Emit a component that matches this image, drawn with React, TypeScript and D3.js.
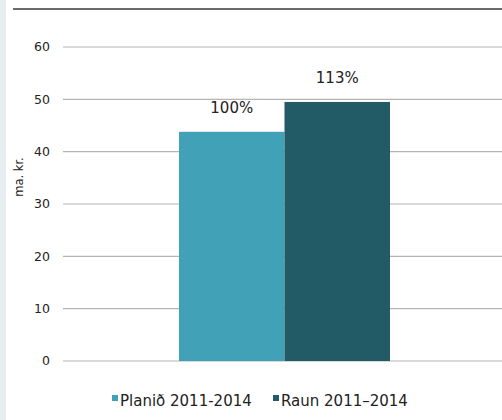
import React, { useEffect, useRef } from 'react';
import * as d3 from 'd3';

const categories = ['Planið 2011-2014', 'Raun 2011–2014'];
const values = [43.8, 49.5];
const barLabels = ['100%', '113%'];
const yTicks = [0, 10, 20, 30, 40, 50, 60];
const colors = ['#41a1b6', '#225a66'];

const App = () => {
  const svgRef = useRef<SVGSVGElement>(null);

  useEffect(() => {
    const width = 502;
    const height = 420;
    const margin = { top: 47, right: 0, bottom: 59, left: 63 };
    const font = '"DejaVu Sans", "Noto Sans", sans-serif';

    const svg = d3.select(svgRef.current)
      .attr('width', width)
      .attr('height', height);
    svg.selectAll('*').remove();

    svg.append('rect').attr('width', width).attr('height', height).attr('fill', '#fff');
    svg.append('rect').attr('width', 6).attr('height', height).attr('fill', '#e6eef1');

    // top rule
    svg.append('line')
      .attr('x1', 13).attr('x2', width)
      .attr('y1', 9).attr('y2', 9)
      .attr('stroke', '#6b6b6b').attr('stroke-width', 2);

    const y = d3.scaleLinear()
      .domain([0, 60])
      .range([height - margin.bottom, margin.top]);

    const x = d3.scaleBand()
      .domain(categories)
      .range([179, 390])
      .padding(0);

    const g = svg.append('g');

    g.selectAll('.grid')
      .data(yTicks)
      .enter().append('line')
      .attr('x1', margin.left).attr('x2', width)
      .attr('y1', d => y(d)).attr('y2', d => y(d))
      .attr('stroke', '#b4b4b4').attr('stroke-width', 1.2);

    g.selectAll('.tick')
      .data(yTicks)
      .enter().append('text')
      .attr('x', 50)
      .attr('y', d => y(d))
      .attr('dy', '0.35em')
      .attr('text-anchor', 'end')
      .attr('font-family', font)
      .attr('font-size', 12.5)
      .attr('fill', '#222')
      .text(d => d);

    svg.append('text')
      .attr('transform', 'translate(23,177) rotate(-90)')
      .attr('text-anchor', 'middle')
      .attr('font-family', font)
      .attr('font-size', 11.5)
      .attr('fill', '#222')
      .text('ma. kr.');

    g.selectAll('.bar')
      .data(values)
      .enter().append('rect')
      .attr('x', (d, i) => x(categories[i]))
      .attr('width', x.bandwidth())
      .attr('y', d => y(d))
      .attr('height', d => y(0) - y(d))
      .attr('fill', (d, i) => colors[i]);

    g.selectAll('.lbl')
      .data(values)
      .enter().append('text')
      .attr('x', (d, i) => x(categories[i]) + x.bandwidth() / 2)
      .attr('y', d => y(d) - 19)
      .attr('text-anchor', 'middle')
      .attr('font-family', font)
      .attr('font-size', 15)
      .attr('fill', '#222')
      .text((d, i) => barLabels[i]);

    const legendX = [112, 273];
    const legend = svg.append('g');
    categories.forEach((c, i) => {
      legend.append('rect')
        .attr('x', legendX[i]).attr('y', 395)
        .attr('width', 6).attr('height', 6)
        .attr('fill', colors[i]);
      legend.append('text')
        .attr('x', legendX[i] + 8).attr('y', 406)
        .attr('font-family', font)
        .attr('font-size', 15)
        .attr('fill', '#222')
        .text(c);
    });
  }, []);

  return (
    <svg ref={svgRef} style={{ position: 'absolute', left: 0, top: 0, display: 'block' }}></svg>
  );
};

export default App;
